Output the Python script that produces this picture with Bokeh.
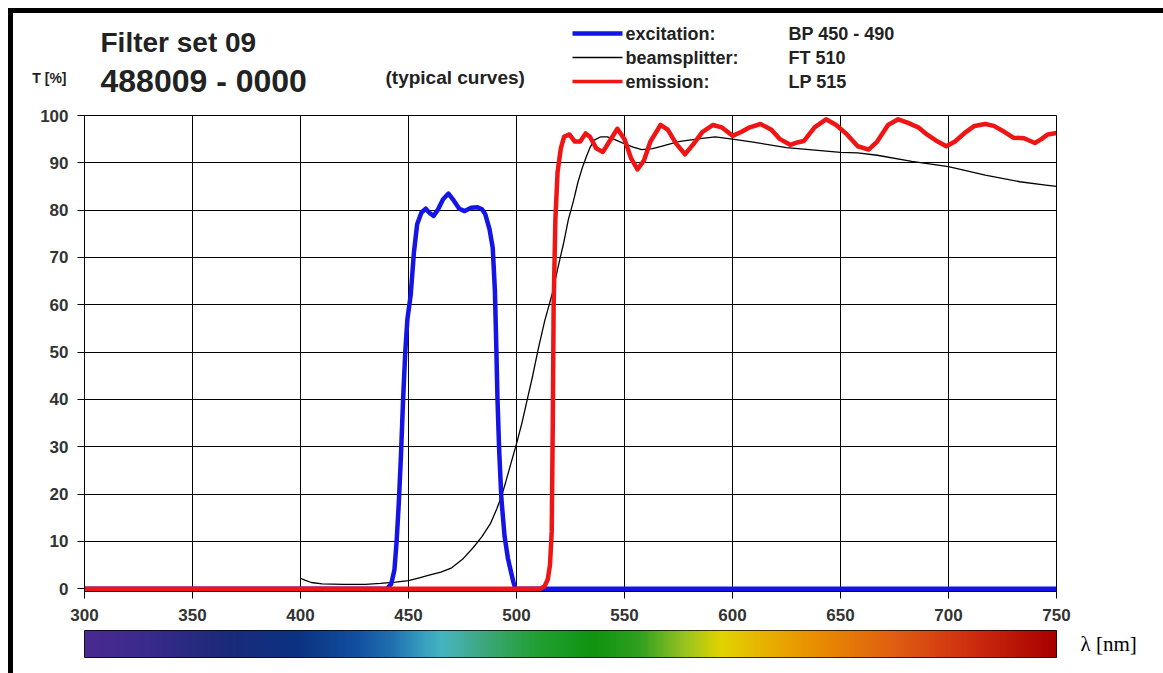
import numpy as np
from bokeh.plotting import figure
from bokeh.layouts import column
from bokeh.models import Range1d, FixedTicker, LinearAxis
from bokeh.core.properties import value
from bokeh.embed import file_html
from bokeh.resources import INLINE

# ---------------- data ----------------
exc_nm = [300, 440, 442, 443.5, 444.5, 445.5, 446.5, 447.5, 448.5, 449.5, 451, 452.5,
          454, 456, 458, 460, 461.6, 463.5, 466, 468.5, 471, 473.5, 476, 479, 482, 484,
          485.5, 487.5, 489, 490, 490.6, 491.2, 492, 493, 494.5, 496, 497, 498.5, 499.5, 750]
exc_t = [0, 0, 1, 4, 10, 18, 28, 40, 50, 57, 62, 71,
         77, 79.5, 80.3, 79.3, 78.8, 80, 82.3, 83.5, 82, 80.3, 79.8, 80.5, 80.6, 80.2,
         79.2, 76, 72, 63, 52, 40, 29, 19, 11, 6.5, 4.4, 1.5, 0, 0]

bs_nm = [400, 402, 405, 410, 420, 430, 437, 444, 450, 455, 460, 465, 470, 475, 480, 484,
         488, 491, 493, 495, 497, 500, 502.5, 505, 507.5, 510, 513, 516.7, 519, 521.8, 524,
         526.4, 528.5, 530.5, 532.5, 534, 536, 539, 542, 545, 549, 554, 558, 563, 567, 575,
         585, 592, 600, 608, 625, 650, 658, 667, 683, 700, 717, 733, 745, 750]
bs_t = [2.2, 1.8, 1.3, 1.0, 0.9, 0.9, 1.1, 1.4, 1.7, 2.3, 2.9, 3.5, 4.4, 6.2, 8.7, 11,
        13.8, 17, 19.5, 22.5, 25.8, 30.6, 35, 40, 45, 50.5, 56.5, 62.6, 67.5, 73, 78,
        82, 86, 89, 91.5, 93.2, 94.8, 95.5, 95.5, 95, 94.2, 93.3, 92.8, 93, 93.5, 94.5,
        95.1, 95.5, 95, 94.5, 93.2, 92.2, 92.1, 91.6, 90.3, 89.2, 87.4, 86, 85.3, 85]

em_nm = [300, 511, 513, 514.5, 515.5, 516.3, 516.8, 517.2, 518, 519, 520.5, 522, 524.5,
         527, 529.5, 532, 534, 537, 540, 543, 546.7, 550, 553, 556, 559, 562, 566.7, 570,
         574, 578, 582, 586, 591, 595, 600, 604, 608, 613, 618, 622, 626.7, 630, 633, 638,
         643.3, 648, 653, 658, 663, 667, 672, 676.7, 681, 686, 690, 695, 699, 703, 708,
         712, 717, 721, 726, 730, 735, 740, 743, 746, 750]
em_t = [0, 0, 0.5, 2, 5, 12, 35, 60, 78, 88, 93, 95.5, 96,
        94.5, 94.5, 96.2, 95.5, 93, 92.3, 94.5, 97.2, 95, 91, 88.6, 90.5, 94.5, 98, 97,
        94, 91.8, 94, 96.5, 98, 97.5, 95.7, 96.5, 97.5, 98.2, 97, 95, 93.8, 94.3, 94.6, 97.5,
        99.2, 98, 96, 93.5, 92.8, 94.5, 98, 99.2, 98.5, 97.5, 96, 94.5, 93.5, 94.5, 96.5,
        97.8, 98.2, 97.8, 96.5, 95.3, 95.2, 94.2, 95, 96, 96.3]

x_ticks = [300, 350, 400, 450, 500, 550, 600, 650, 700, 750]
y_ticks = [0, 10, 20, 30, 40, 50, 60, 70, 80, 90, 100]

spectrum_nm = [300, 329, 364, 398, 426, 443, 458, 466, 484, 509, 536, 557, 578, 595,
               616, 640, 674, 709, 750]
spectrum_hex = ["#4a2a90", "#3a2a8c", "#1c2a7a", "#0c3282", "#1250a0", "#2272b2",
                "#3aa4c0", "#46b4c0", "#40a880", "#22a034", "#109410", "#30a020",
                "#98c420", "#e2d400", "#e8b000", "#e88c00", "#e06012", "#d03010", "#a80000"]

legend_names = ["excitation:", "beamsplitter:", "emission:"]
legend_specs = ["BP 450 - 490", "FT 510", "LP 515"]

# ---------------- styles ----------------
FONT = "Liberation Sans"
W = 1150
BL, BR = 71, 107          # identical left/right borders for all three figures
C_EXC = "#1414e6"
C_BS = "black"
C_EM = "#f01414"
TXT = "#222222"


def plain(fig):
    fig.background_fill_color = "white"
    fig.border_fill_color = "white"


# ---------------- header (titles + legend), page-pixel coordinates ----------------
H0 = 92
p0 = figure(width=W, height=H0, x_range=Range1d(84, 1056), y_range=Range1d(H0, 0),
            output_backend="svg", toolbar_location=None, x_axis_location=None,
            min_border_left=BL, min_border_right=BR, min_border_top=0, min_border_bottom=0)
plain(p0)
p0.outline_line_color = None
p0.xgrid.visible = False
p0.ygrid.visible = False
# "T [%]" is the y-axis caption, drawn as the header's axis label
p0.yaxis.ticker = FixedTicker(ticks=[64])
p0.yaxis.major_label_overrides = {64: "T [%]"}
p0.yaxis.axis_line_color = None
p0.yaxis.major_tick_line_color = None
p0.yaxis.minor_tick_line_color = None
p0.yaxis.major_label_standoff = 12
p0.yaxis.major_label_text_font = FONT
p0.yaxis.major_label_text_font_style = "bold"
p0.yaxis.major_label_text_font_size = "14px"
p0.yaxis.major_label_text_color = TXT


def htext(x, y, txt, size):
    p0.text(x=[x], y=[y], text=[txt], text_font=value(FONT), text_font_style="bold",
            text_font_size=value(size), text_baseline="middle", text_align="left",
            text_color=TXT)


htext(100, 29, "Filter set 09", "28px")
htext(100, 67, "488009 - 0000", "32px")
htext(385, 64, "(typical curves)", "19px")

rows_y = [20, 44, 68]
cols = [C_EXC, C_BS, C_EM]
widths = [4.5, 1.5, 3.5]
for ry, c, lw, nm_, sp in zip(rows_y, cols, widths, legend_names, legend_specs):
    p0.line(x=[572, 622], y=[ry, ry], line_color=c, line_width=lw)
    htext(625, ry, nm_, "18px")
    htext(788, ry, sp, "18px")

# ---------------- main plot ----------------
p1 = figure(width=W, height=525, x_range=Range1d(300, 750), y_range=Range1d(-0.6, 100),
            output_backend="svg", toolbar_location=None,
            min_border_left=BL, min_border_right=BR, min_border_top=10, min_border_bottom=39)
plain(p1)
p1.outline_line_color = "black"
p1.xaxis.ticker = FixedTicker(ticks=x_ticks)
p1.yaxis.ticker = FixedTicker(ticks=y_ticks)
for g in (p1.xgrid, p1.ygrid):
    g.grid_line_color = "black"
    g.grid_line_width = 1
for ax in (p1.xaxis, p1.yaxis):
    ax.axis_line_color = "black"
    ax.major_tick_line_color = "black"
    ax.major_tick_out = 7
    ax.major_tick_in = 0
    ax.minor_tick_line_color = None
    ax.major_label_text_font = FONT
    ax.major_label_text_font_style = "bold"
    ax.major_label_text_font_size = "17px"
    ax.major_label_text_color = "#333333"
p1.xaxis.major_label_standoff = 10
p1.yaxis.major_label_standoff = 9

p1.line(bs_nm, bs_t, line_color=C_BS, line_width=1.3)
p1.line(exc_nm, exc_t, line_color=C_EXC, line_width=4.5, line_join="round")
p1.line(em_nm, em_t, line_color=C_EM, line_width=4.5, line_join="round")

# ---------------- spectrum bar ----------------
H2 = 43
p2 = figure(width=W, height=H2, x_range=p1.x_range, y_range=Range1d(0, 1),
            output_backend="svg", toolbar_location=None,
            x_axis_location=None, y_axis_location=None,
            min_border_left=BL, min_border_right=BR, min_border_top=0, min_border_bottom=16)
plain(p2)
p2.outline_line_color = "black"
p2.xgrid.visible = False
p2.ygrid.visible = False

# wavelength caption as the bar's right-hand axis label
lam_axis = LinearAxis(ticker=FixedTicker(ticks=[0.5]), major_label_overrides={0.5: "λ [nm]"},
                      axis_line_color=None, major_tick_line_color=None,
                      minor_tick_line_color=None, major_label_standoff=18,
                      major_label_text_font="Liberation Serif",
                      major_label_text_font_size="21px", major_label_text_color="black")
p2.add_layout(lam_axis, "right")


def hex2rgb(h):
    return [int(h[i:i + 2], 16) for i in (1, 3, 5)]


N = 900
xs = np.linspace(300, 750, N)
rgb = np.array([hex2rgb(h) for h in spectrum_hex], dtype=float)
img = np.zeros((1, N), dtype=np.uint32)
view = img.view(dtype=np.uint8).reshape((1, N, 4))
for ch in range(3):
    view[0, :, ch] = np.interp(xs, spectrum_nm, rgb[:, ch]).astype(np.uint8)
view[0, :, 3] = 255
p2.image_rgba(image=[img], x=300, y=0, dw=450, dh=1)

layout = column(p0, p1, p2, spacing=0, margin=(8, 0, 0, 8),
                styles={"border-top": "5px solid black", "border-left": "5px solid black"})

open("out.html", "w").write(file_html(layout, INLINE))
